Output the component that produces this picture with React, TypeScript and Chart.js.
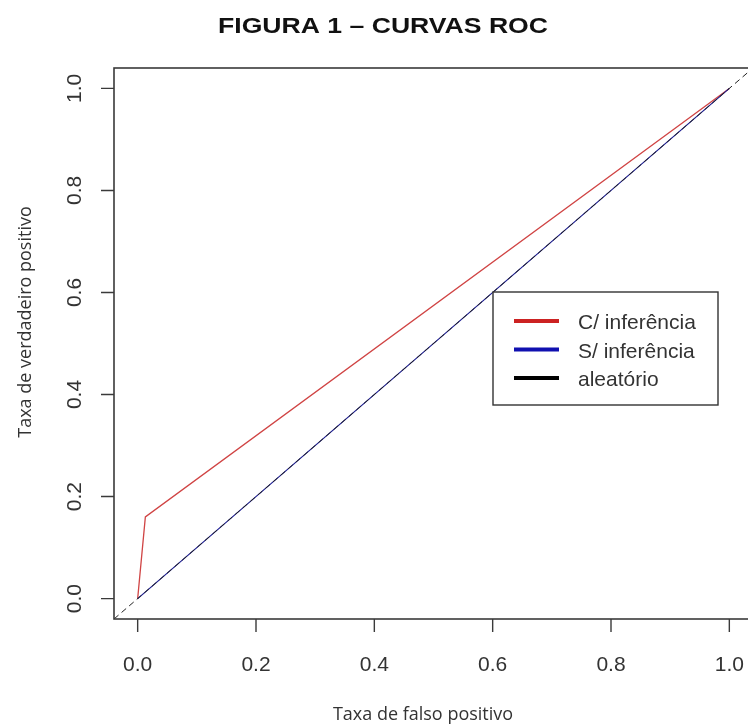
import React, { useEffect, useRef } from "react";
import { Chart, registerables } from "chart.js";

Chart.register(...registerables);

const titleText = "FIGURA 1 – CURVAS ROC";
const xTitle = "Taxa de falso positivo";
const yTitle = "Taxa de verdadeiro positivo";

const xTickValues = [0, 0.2, 0.4, 0.6, 0.8, 1.0];
const yTickValues = [0, 0.2, 0.4, 0.6, 0.8, 1.0];
const xTickLabels = ["0.0", "0.2", "0.4", "0.6", "0.8", "1.0"];
const yTickLabels = ["0.0", "0.2", "0.4", "0.6", "0.8", "1.0"];

const seriesNames = ["C/ inferência", "S/ inferência", "aleatório"];
const fprC = [0, 0.013, 1];
const tprC = [0, 0.16, 1];
const fprS = [0, 1];
const tprS = [0, 1];
const fprRandom = [-0.04, 1.04];
const tprRandom = [-0.04, 1.04];

const axisMin = -0.04;
const axisMax = 1.04;

const zip = (xs: number[], ys: number[]) => xs.map((x, i) => ({ x, y: ys[i] }));

const legendColors = ["#cc2222", "#1010b0", "#000000"];

const decorPlugin = {
  id: "decor",
  afterDatasetsDraw(chart: any) {
    const ctx = chart.ctx as CanvasRenderingContext2D;
    const { left, right, top, bottom } = chart.chartArea;
    const xs = chart.scales.x;
    const ys = chart.scales.y;
    ctx.save();
    // box
    ctx.strokeStyle = "#3a3a3a";
    ctx.lineWidth = 1.6;
    ctx.strokeRect(left, top, right - left, bottom - top);
    // ticks
    ctx.lineWidth = 1.4;
    ctx.beginPath();
    xTickValues.forEach((v) => {
      const px = xs.getPixelForValue(v);
      ctx.moveTo(px, bottom);
      ctx.lineTo(px, bottom + 13);
    });
    yTickValues.forEach((v) => {
      const py = ys.getPixelForValue(v);
      ctx.moveTo(left, py);
      ctx.lineTo(left - 13, py);
    });
    ctx.stroke();
    // tick labels
    ctx.fillStyle = "#333";
    ctx.font = "21px 'Liberation Sans', Arial, sans-serif";
    ctx.textAlign = "center";
    ctx.textBaseline = "alphabetic";
    xTickValues.forEach((v, i) => {
      ctx.fillText(xTickLabels[i], xs.getPixelForValue(v), 671);
    });
    yTickValues.forEach((v, i) => {
      ctx.save();
      ctx.translate(81, ys.getPixelForValue(v));
      ctx.rotate(-Math.PI / 2);
      ctx.fillText(yTickLabels[i], 0, 0);
      ctx.restore();
    });
    // axis titles
    ctx.font = "18px 'Open Sans', 'DejaVu Sans', sans-serif";
    ctx.fillText(xTitle, 423, 720);
    ctx.save();
    ctx.translate(31, 322);
    ctx.rotate(-Math.PI / 2);
    ctx.fillText(yTitle, 0, 0);
    ctx.restore();
    // title
    ctx.font = "bold 22px 'Liberation Sans', Arial, sans-serif";
    const tw = ctx.measureText(titleText).width;
    ctx.save();
    ctx.translate(383, 33);
    ctx.scale(330 / tw, 1);
    ctx.textAlign = "center";
    ctx.fillStyle = "#111";
    ctx.fillText(titleText, 0, 0);
    ctx.restore();
    // legend
    const lx = 493, ly = 292, lw = 225, lh = 113;
    ctx.fillStyle = "#fff";
    ctx.fillRect(lx, ly, lw, lh);
    ctx.strokeStyle = "#333";
    ctx.lineWidth = 1.4;
    ctx.strokeRect(lx, ly, lw, lh);
    ctx.font = "21px 'Liberation Sans', Arial, sans-serif";
    ctx.textAlign = "left";
    chart.data.datasets.forEach((ds: any, i: number) => {
      const cy = 321 + i * 28.5;
      ctx.strokeStyle = legendColors[i];
      ctx.lineWidth = 4;
      ctx.setLineDash([]);
      ctx.beginPath();
      ctx.moveTo(514, cy);
      ctx.lineTo(559, cy);
      ctx.stroke();
      ctx.fillStyle = "#333";
      ctx.fillText(ds.label, 578, cy + 8);
    });
    ctx.restore();
  },
};

export default function App() {
  const ref = useRef<HTMLCanvasElement | null>(null);
  useEffect(() => {
    if (!ref.current) return;
    const chart = new Chart(ref.current, {
      type: "scatter",
      data: {
        datasets: [
          {
            label: seriesNames[0],
            data: zip(fprC, tprC),
            showLine: true,
            borderColor: "#d04444",
            borderWidth: 1.3,
            pointRadius: 0,
            order: 3,
          },
          {
            label: seriesNames[1],
            data: zip(fprS, tprS),
            showLine: true,
            borderColor: "#1a1a90",
            borderWidth: 1.2,
            pointRadius: 0,
            order: 2,
          },
          {
            label: seriesNames[2],
            data: zip(fprRandom, tprRandom),
            showLine: true,
            borderColor: "#222",
            borderWidth: 1,
            borderDash: [6, 4],
            pointRadius: 0,
            order: 1,
          },
        ],
      },
      options: {
        responsive: false,
        animation: false,
        devicePixelRatio: 1,
        layout: { padding: { left: 114, top: 68, right: 17, bottom: 106 } },
        plugins: { legend: { display: false }, tooltip: { enabled: false }, title: { display: false } },
        scales: {
          x: { type: "linear", display: false, min: axisMin, max: axisMax },
          y: { type: "linear", display: false, min: axisMin, max: axisMax },
        },
      },
      plugins: [decorPlugin],
    });
    return () => chart.destroy();
  }, []);
  return (
    <div style={{ position: "fixed", left: 0, top: 0, width: "100vw", height: "100vh", overflow: "hidden", background: "#fff" }}>
      <canvas ref={ref} width={770} height={725} style={{ display: "block", width: 770, height: 725 }} />
    </div>
  );
}
